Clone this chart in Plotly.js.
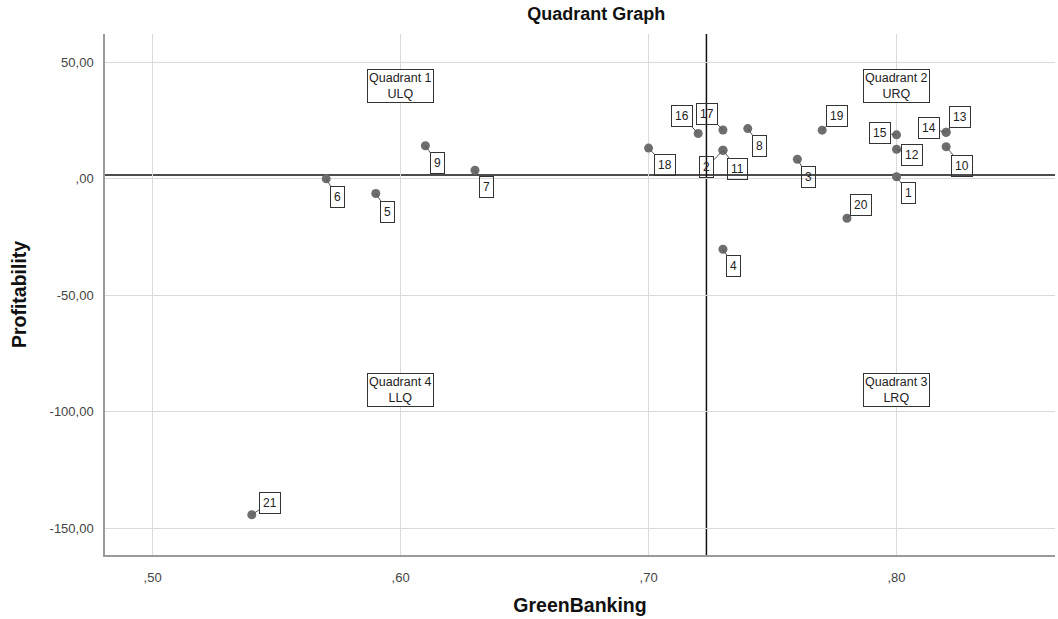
<!DOCTYPE html>
<html>
<head>
<meta charset="utf-8">
<script src="https://cdn.plot.ly/plotly-3.0.1.min.js"></script>
<style>
  html, body { margin: 0; padding: 0; background: #ffffff; }
  #chart { width: 1058px; height: 619px; }
</style>
</head>
<body>
<div id="chart"></div>
<script>
// ---- Data ----
const bankIds = ['1','2','3','4','5','6','7','8','9','10','11','12','13','14','15','16','17','18','19','20','21'];
const greenBanking = [0.80, 0.73, 0.76, 0.73, 0.59, 0.57, 0.63, 0.74, 0.61, 0.82, 0.73, 0.80, 0.82, 0.82, 0.80, 0.72, 0.73, 0.70, 0.77, 0.78, 0.54];
const profitability = [0.9, 12.3, 8.4, -30.2, -6.3, 0.0, 3.7, 21.6, 14.2, 13.8, 12.3, 12.7, 20.0, 20.0, 18.9, 19.5, 21.0, 13.2, 20.9, -16.9, -144.2];

const quadrantNames = ['Quadrant 1<br>ULQ', 'Quadrant 2<br>URQ', 'Quadrant 3<br>LRQ', 'Quadrant 4<br>LLQ'];
const quadrantX = [0.60, 0.80, 0.80, 0.60];
const quadrantY = [40, 40, -90.5, -90.5];

const xTickVals = [0.5, 0.6, 0.7, 0.8];
const xTickText = [',50', ',60', ',70', ',80'];
const yTickVals = [50, 0, -50, -100, -150];
const yTickText = ['50,00', ',00', '-50,00', '-100,00', '-150,00'];

// label box offsets (pixels) relative to each point, for legibility
const labelOffsets = {
  '1': [12, 16], '2': [-16, 17], '3': [11, 18], '4': [11, 17], '5': [12, 18],
  '6': [11, 18], '7': [12, 17], '8': [12, 17], '9': [12, 17], '10': [16, 19],
  '11': [15, 19], '12': [15, 6], '13': [14, -15], '14': [-17, -4], '15': [-17, -2],
  '16': [-16, -17], '17': [-16, -16], '18': [16, 17], '19': [15, -14], '20': [14, -13],
  '21': [18, -12]
};

const mean = a => a.reduce((s, v) => s + v, 0) / a.length;
const meanX = mean(greenBanking);
const meanY = mean(profitability);

const FONT = 'Liberation Sans, Arial, sans-serif';

const trace = {
  type: 'scatter',
  mode: 'markers',
  x: greenBanking,
  y: profitability,
  text: bankIds,
  marker: { color: '#6e6e6e', size: 9 },
  hoverinfo: 'text+x+y',
  showlegend: false
};

const annotations = [];
bankIds.forEach((id, i) => {
  const off = labelOffsets[id];
  annotations.push({
    x: greenBanking[i], y: profitability[i], xref: 'x', yref: 'y',
    text: id, showarrow: true, arrowhead: 0, arrowwidth: 1, arrowcolor: '#555555',
    ax: off[0], ay: off[1], standoff: 0,
    font: { family: FONT, size: 12, color: '#222222' },
    bordercolor: '#333333', borderwidth: 1, borderpad: 3, bgcolor: 'rgba(0,0,0,0)'
  });
});
quadrantNames.forEach((t, i) => {
  annotations.push({
    x: quadrantX[i], y: quadrantY[i], xref: 'x', yref: 'y',
    text: t, showarrow: false,
    font: { family: FONT, size: 12.5, color: '#222222' },
    bordercolor: '#333333', borderwidth: 1, borderpad: 1, bgcolor: '#ffffff'
  });
});

const layout = {
  width: 1058, height: 619,
  paper_bgcolor: '#ffffff', plot_bgcolor: '#ffffff',
  margin: { l: 105, r: 3, t: 34, b: 64, pad: 0 },
  title: {
    text: '<b>Quadrant Graph</b>',
    font: { family: FONT, size: 18, color: '#111111' },
    x: 0.517, xref: 'paper', xanchor: 'center',
    y: 0.978, yref: 'container', yanchor: 'middle'
  },
  xaxis: {
    range: [0.4808, 0.8639],
    tickvals: xTickVals, ticktext: xTickText,
    showgrid: true, gridcolor: '#dadada', gridwidth: 1,
    zeroline: false,
    showline: true, linecolor: '#9a9a9a', linewidth: 1.5,
    ticks: '', ticklabelstandoff: 10,
    tickfont: { family: FONT, size: 13, color: '#444444' },
    title: { text: '<b>GreenBanking</b>', font: { family: FONT, size: 19.5, color: '#111111' }, standoff: 14 },
    automargin: false, fixedrange: true
  },
  yaxis: {
    range: [-161.5, 62.2],
    tickvals: yTickVals, ticktext: yTickText,
    showgrid: true, gridcolor: '#dadada', gridwidth: 1,
    zeroline: false,
    showline: true, linecolor: '#9a9a9a', linewidth: 1.5,
    ticks: '', ticklabelstandoff: 7,
    tickfont: { family: FONT, size: 13, color: '#444444' },
    title: { text: '<b>Profitability</b>', font: { family: FONT, size: 19.5, color: '#111111' }, standoff: 18 },
    automargin: false, fixedrange: true
  },
  shapes: [
    { type: 'line', xref: 'x', yref: 'paper', x0: meanX, x1: meanX, y0: 0, y1: 1,
      line: { color: '#111111', width: 1.5 }, layer: 'below' },
    { type: 'line', xref: 'paper', yref: 'y', x0: 0, x1: 1, y0: meanY, y1: meanY,
      line: { color: '#111111', width: 1.5 }, layer: 'below' }
  ],
  annotations: annotations,
  showlegend: false
};

Plotly.newPlot('chart', [trace], layout, { displayModeBar: false, staticPlot: false });
</script>
</body>
</html>
